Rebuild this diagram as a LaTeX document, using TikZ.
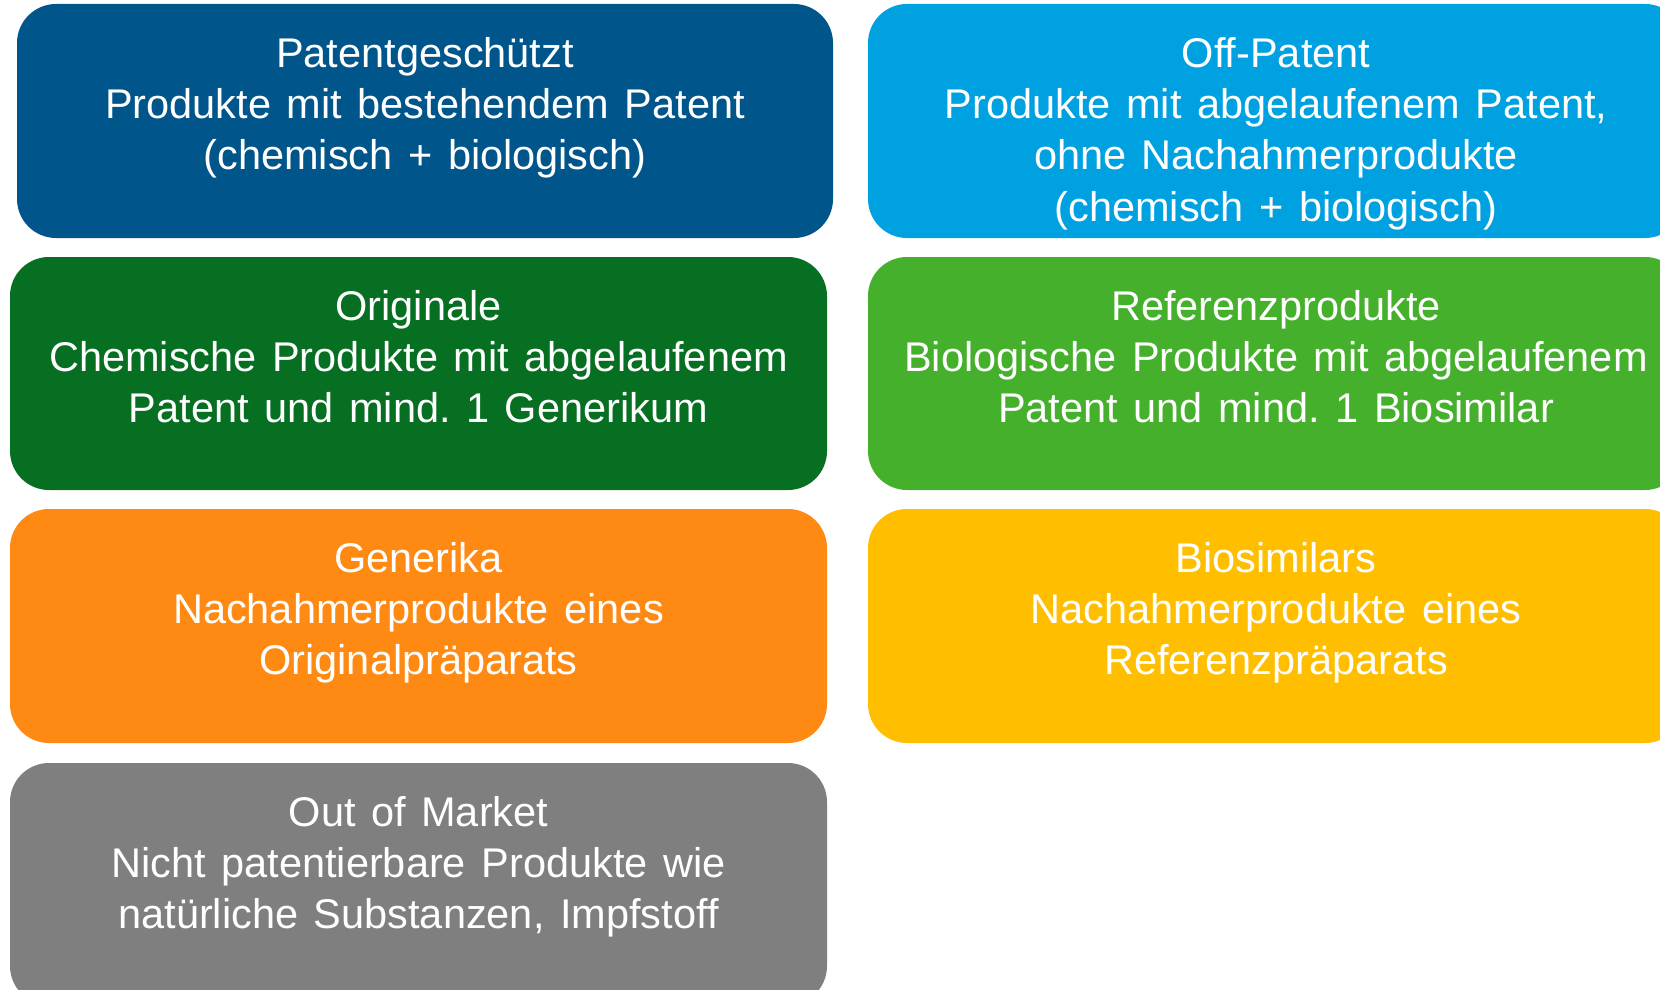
\documentclass[tikz,border=0pt]{standalone}
\usepackage{fontspec}
\setmainfont[WordSpace=1.35]{Liberation Sans}
\definecolor{cDarkBlue}{HTML}{00558A}
\definecolor{cLightBlue}{HTML}{00A1E0}
\definecolor{cDarkGreen}{HTML}{066F22}
\definecolor{cLightGreen}{HTML}{44B02B}
\definecolor{cOrange}{HTML}{FE8A14}
\definecolor{cYellow}{HTML}{FFBF00}
\definecolor{cGray}{HTML}{7F7F7F}
\frenchspacing
\begin{document}
\begin{tikzpicture}[x=1pt,y=-1pt,
  box/.style={fill=#1, draw=none, rounded corners=39pt, inner sep=0pt, minimum width=816pt},
  lbl/.style={anchor=north, inner sep=0pt, align=center, text=white, font=\fontsize{41.5}{51.4}\selectfont}]
\useasboundingbox (0,0) rectangle (1660,990);
\clip (0,0) rectangle (1660,990);
% boxes
\node[box=cDarkBlue, minimum height=234pt] (b1) at (425,121) {};
\node[box=cLightBlue, minimum height=234pt] (b2) at (1276,121) {};
\node[box=cDarkGreen, minimum height=233pt, minimum width=817pt] (b3) at (418.5,373.5) {};
\node[box=cLightGreen, minimum height=233pt] (b4) at (1276,373.5) {};
\node[box=cOrange, minimum height=234pt, minimum width=817pt] (b5) at (418.5,626) {};
\node[box=cYellow, minimum height=234pt] (b6) at (1276,626) {};
\node[box=cGray, minimum height=242pt, minimum width=817pt] (b7) at (418.5,884) {};
% labels
\node[lbl] (t1) at ([yshift=-31pt]b1.north) {\rule{0pt}{32pt}Patentgeschützt\\Produkte mit bestehendem Patent\\(chemisch + biologisch)};
\node[lbl] (t2) at ([yshift=-31pt]b2.north) {\rule{0pt}{32pt}Off-Patent\\Produkte mit abgelaufenem Patent,\\ohne Nachahmerprodukte\\(chemisch + biologisch)};
\node[lbl] (t3) at ([yshift=-31pt]b3.north) {\rule{0pt}{32pt}Originale\\Chemische Produkte mit abgelaufenem\\Patent und mind. 1 Generikum};
\node[lbl] (t4) at ([yshift=-31pt]b4.north) {\rule{0pt}{32pt}Referenzprodukte\\Biologische Produkte mit abgelaufenem\\Patent und mind. 1 Biosimilar};
\node[lbl] (t5) at ([yshift=-31pt]b5.north) {\rule{0pt}{32pt}Generika\\Nachahmerprodukte eines\\Originalpräparats};
\node[lbl] (t6) at ([yshift=-31pt]b6.north) {\rule{0pt}{32pt}Biosimilars\\Nachahmerprodukte eines\\Referenzpräparats};
\node[lbl] (t7) at ([yshift=-31pt]b7.north) {\rule{0pt}{32pt}Out of Market\\Nicht patentierbare Produkte wie\\natürliche Substanzen, Impfstoff};
\end{tikzpicture}
\end{document}
